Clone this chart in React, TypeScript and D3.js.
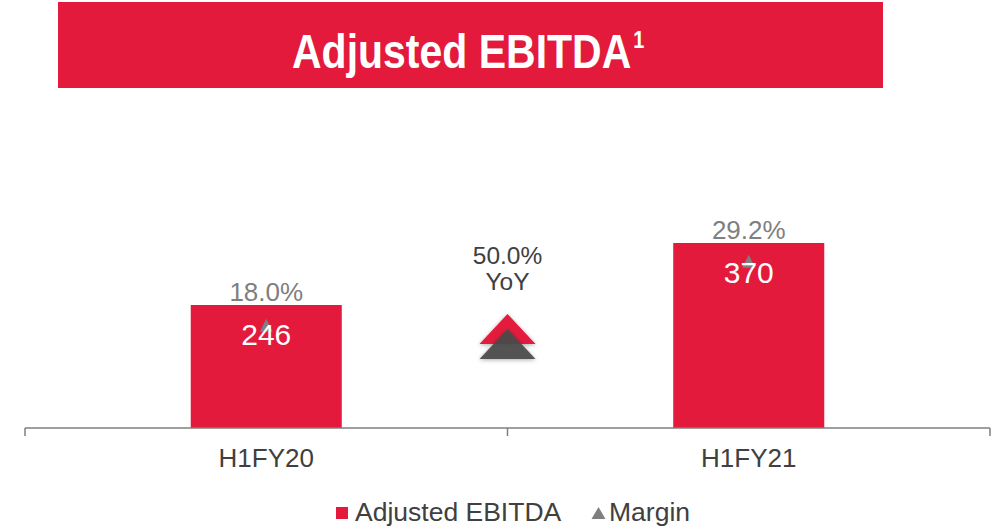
import React from 'react';
import * as d3 from 'd3';

// chart data
const categories = ['H1FY20', 'H1FY21'];
const ebitdaValues = [246, 370];
const marginValues = [18.0, 29.2];
const yoyLabel = ['50.0%', 'YoY'];

const RED = '#e31a3c';
const GREY = '#7f7f7f';
const DARK = '#404040';
const FONT = '"Liberation Sans", Arial, sans-serif';

export default function App() {
  const width = 992;
  const height = 529;
  const left = 25;
  const right = 990;
  const baseY = 428;
  const topY = 128;

  const x = d3.scaleBand<string>().domain(categories).range([left, right]).paddingInner(0).paddingOuter(0);
  const y = d3.scaleLinear().domain([0, 600]).range([baseY, topY]);
  const y2 = d3.scaleLinear().domain([0, 52.5]).range([baseY, topY]);
  const barW = x.bandwidth() * 0.313;

  const tri = (cx: number, cy: number, w: number, h: number) =>
    `M${cx},${cy - h / 2}L${cx + w / 2},${cy + h / 2}L${cx - w / 2},${cy + h / 2}Z`;

  const midX = (x(categories[0]) as number) + x.bandwidth();

  return (
    <svg width={width} height={height} style={{ position: 'absolute', left: 0, top: 0 }} fontFamily={FONT}>
      <defs>
        <filter id="sh" x="-30%" y="-30%" width="160%" height="160%">
          <feDropShadow dx="0" dy="1" stdDeviation="2" floodColor="#000" floodOpacity="0.35" />
        </filter>
      </defs>
      {/* title banner */}
      <rect x={58} y={2} width={825} height={86} fill={RED} />
      <g transform="translate(0,68) scale(1,1.18)">
        <text x={292} y={0} fill="#fff" fontSize={41} fontWeight="bold">
          Adjusted EBITDA<tspan fontSize={20} dy={-17} dx={2}>1</tspan>
        </text>
      </g>

      {/* bars */}
      {categories.map((c, i) => {
        const cx = (x(c) as number) + x.bandwidth() / 2;
        return (
          <g key={c}>
            <rect x={cx - barW / 2} y={y(ebitdaValues[i])} width={barW} height={baseY - y(ebitdaValues[i])} fill={RED} />
            <path d={tri(cx, y2(marginValues[i]), 13, 13)} fill={GREY} />
            <text x={cx} y={y(ebitdaValues[i]) - 4} textAnchor="middle" fill={GREY} fontSize={26}>
              {marginValues[i].toFixed(1)}%
            </text>
            <text x={cx} y={y(ebitdaValues[i]) + 40} textAnchor="middle" fill="#fff" fontSize={30}>
              {ebitdaValues[i]}
            </text>
            <text x={cx} y={467} textAnchor="middle" fill={DARK} fontSize={26}>
              {c}
            </text>
          </g>
        );
      })}

      {/* axis */}
      <line x1={left} x2={right} y1={baseY} y2={baseY} stroke={GREY} strokeWidth={1.5} />
      {[left, midX, right].map((t, i) => (
        <line key={i} x1={t} x2={t} y1={baseY} y2={baseY + 8} stroke={GREY} strokeWidth={1.5} />
      ))}

      {/* YoY indicator */}
      <text x={midX} y={264} textAnchor="middle" fill={DARK} fontSize={24.5}>{yoyLabel[0]}</text>
      <text x={midX} y={290} textAnchor="middle" fill={DARK} fontSize={24.5}>{yoyLabel[1]}</text>
      <path d={tri(midX, 329, 56, 30)} fill={RED} filter="url(#sh)" />
      <path d={tri(midX, 344, 56, 30)} fill="#4a4a4a" fillOpacity={0.92} filter="url(#sh)" />

      {/* legend */}
      <rect x={336} y={507} width={12} height={12} fill={RED} />
      <text x={355} y={521} fill={DARK} fontSize={26.5}>Adjusted EBITDA</text>
      <path d={tri(598.5, 513, 14, 12)} fill={GREY} />
      <text x={609} y={521} fill={DARK} fontSize={26.5}>Margin</text>
    </svg>
  );
}
